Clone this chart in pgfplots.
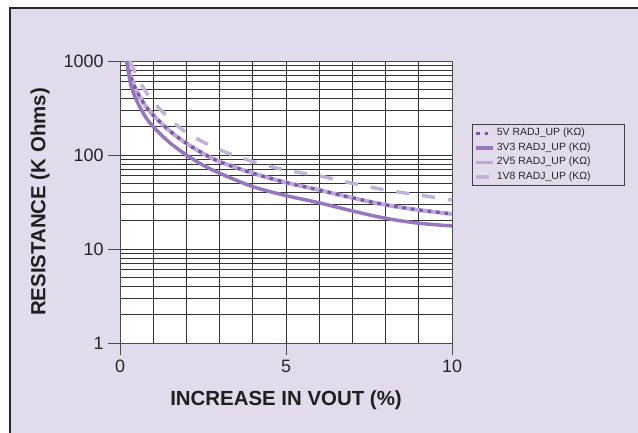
\documentclass[border=0pt]{standalone}
\usepackage{pgfplots}
\pgfplotsset{compat=1.18}
\usepackage{fontspec}
\setmainfont{Liberation Sans}
\definecolor{bgl}{RGB}{226,219,236}
\definecolor{cfive}{RGB}{125,85,170}
\definecolor{cthree}{RGB}{150,119,190}
\definecolor{ctwo}{RGB}{190,168,215}
\definecolor{cone}{RGB}{196,176,220}
\newcommand\lgpad{\hspace*{30bp}}
\begin{document}
\begin{tikzpicture}[x=1bp,y=1bp]
\useasboundingbox (0,0) rectangle (638,433);
\fill[white] (0,0) rectangle (638,433);
\fill[bgl] (9,0) rectangle (638,425);
\draw[line width=2bp, black!85] (9.5,0) -- (9.5,424.5) -- (638,424.5);
\begin{axis}[
  at={(120bp,90bp)}, anchor=south west,
  scale only axis, width=332bp, height=282bp,
  xmin=0, xmax=10, ymin=1, ymax=1000, ymode=log,
  log basis y=10,
  xtick={0,5,10}, minor xtick={1,2,3,4,6,7,8,9},
  ytick={1,10,100,1000},
  yticklabels={1,10,100,1000},
  minor ytick={2,3,4,5,6,7,8,9,20,30,40,50,60,70,80,90,200,300,400,500,600,700,800,900},
  grid=both,
  major grid style={black!80, line width=0.8bp},
  minor grid style={black!80, line width=0.8bp},
  axis line style={black!70, line width=0.9bp},
  tick align=outside, xtick pos=bottom, ytick pos=left,
  major tick length=12bp, minor tick length=0bp,
  tick style={black!70, line width=0.9bp},
  axis background/.style={fill=white},
  /pgf/number format/assume math mode=true,
  tick label style={font=\fontsize{18}{20}\selectfont, text=black!85},
  xticklabel style={yshift=-2bp},
  yticklabel style={xshift=-1bp},
  xlabel={\textbf{INCREASE IN VOUT (\%)}},
  ylabel={\textbf{RESISTANCE (K Ohms)}},
  label style={font=\fontsize{20.5}{22}\selectfont, text=black!88},
  xlabel style={at={(axis description cs:0.5,-0.204)}, anchor=center},
  ylabel style={at={(axis description cs:-0.241,0.5)}, anchor=center, rotate=0},
  legend cell align=left,
  legend style={at={(1.06,0.777)}, anchor=north west, fill=bgl, draw=black!75,
    line width=0.8bp, font=\fontsize{10.5}{12}\selectfont, text=black!85,
    inner xsep=2bp, inner ysep=2bp, row sep=0.5bp,
    nodes={inner ysep=2bp, text height=7.5bp, text depth=2.5bp}},
]
% 2V5 underlay (same course as 5V)
\addplot[ctwo, line width=4bp, smooth, forget plot] coordinates {
 (0.2,1000) (0.3,720) (0.5,480) (0.75,340) (1,265) (1.5,180) (2,133) (2.5,104)
 (3,85) (4,64) (5,51) (6,42.4) (7,35) (8,29.5) (9,26) (10,23.6)};
% 5V
\addplot[cfive, line width=3.2bp, smooth, dash pattern=on 3.5bp off 5bp] coordinates {
 (0.2,1000) (0.3,720) (0.5,480) (0.75,340) (1,265) (1.5,180) (2,133) (2.5,104)
 (3,85) (4,64) (5,51) (6,42.4) (7,35) (8,29.5) (9,26) (10,23.6)};
% 3V3
\addplot[cthree, line width=3.5bp, smooth] coordinates {
 (0.2,1000) (0.27,700) (0.35,520) (0.5,380) (0.75,260) (1,200) (1.5,135) (2,100)
 (2.5,78) (3,64) (4,46) (5,37) (6,31) (7,25.4) (8,21.2) (9,18.8) (10,17.6)};
\addlegendimage{ctwo, line width=3.5bp}
% 1V8
\addplot[cone, line width=3.5bp, smooth, dash pattern=on 13bp off 13bp] coordinates {
 (0.3,1000) (0.4,830) (0.7,520) (1,370) (1.5,240) (2,173) (2.5,138) (3,113)
 (4,85) (5,69) (6,60) (7,50) (8,42.4) (9,37.5) (10,33.2)};
\legend{5V RADJ\_UP (KΩ)\lgpad, 3V3 RADJ\_UP (KΩ)\lgpad, 2V5 RADJ\_UP (KΩ)\lgpad, 1V8 RADJ\_UP (KΩ)\lgpad}
\end{axis}
\end{tikzpicture}
\end{document}
